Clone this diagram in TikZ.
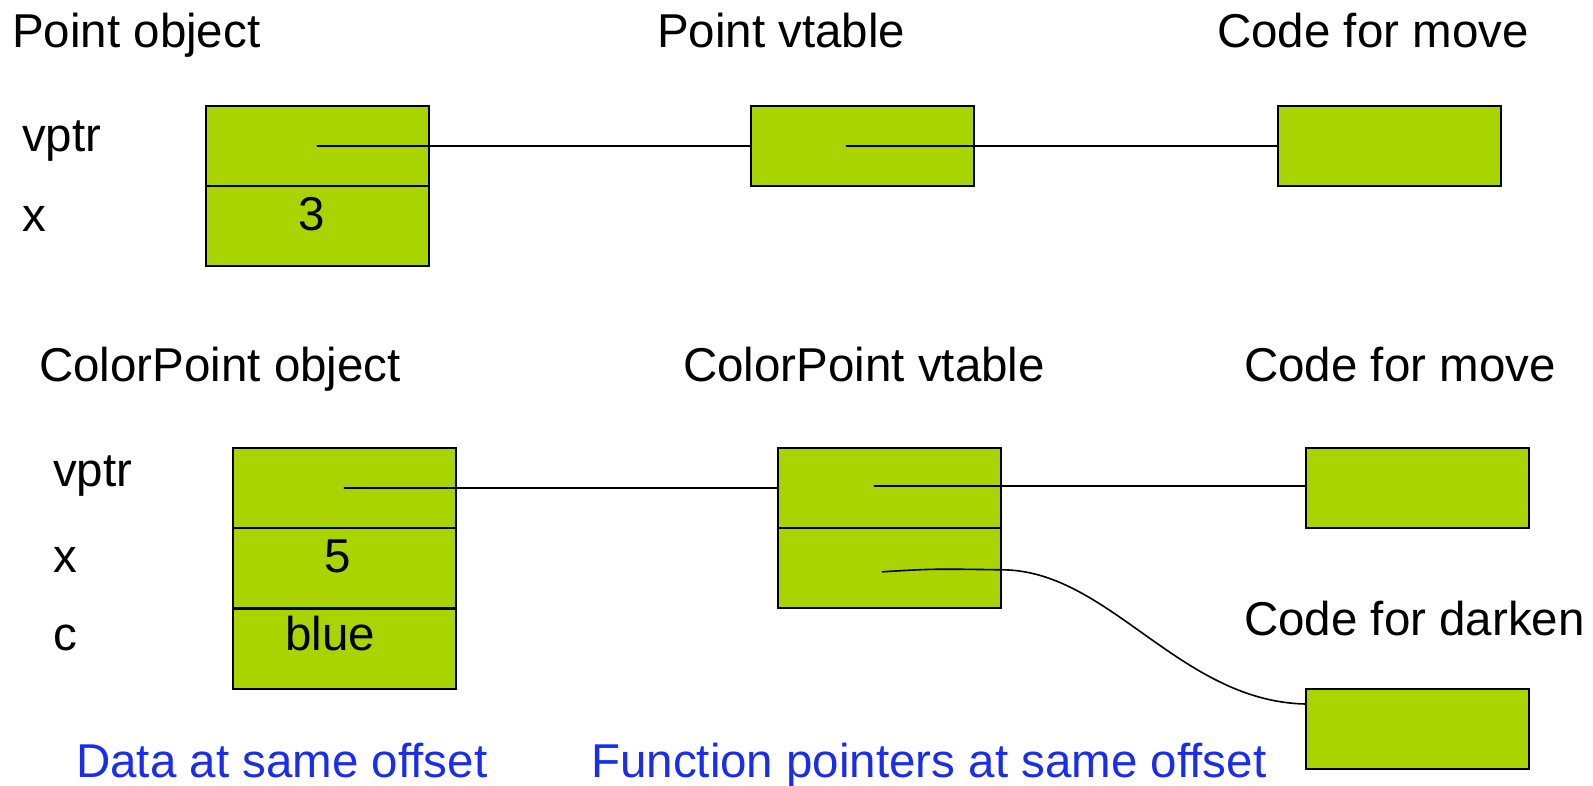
\documentclass[tikz,border=0pt]{standalone}
\usepackage{fontspec}
\setmainfont{Liberation Sans}
\usetikzlibrary{calc}
\definecolor{cellgreen}{RGB}{170,212,0}
\definecolor{notblue}{RGB}{25,45,235}
\begin{document}
\begin{tikzpicture}[x=1pt,y=-1pt,
  cell/.style={draw=black,line width=1.6pt,fill=cellgreen,rectangle,inner sep=0pt,
    minimum width=223pt,minimum height=80pt,anchor=north west},
  lbl/.style={font=\fontsize{47.5}{57}\selectfont,inner sep=0pt,anchor=base west},
  val/.style={font=\fontsize{47.5}{57}\selectfont,inner sep=0pt,anchor=base},
  note/.style={lbl,text=notblue},
  ptr/.style={line width=1.6pt,line cap=round}]
\useasboundingbox (0,0) rectangle (1593,786);
% --- Point ---
\node[lbl] (tpobj) at (12,48) {Point object};
\node[lbl] (tpvt) at (657,48) {Point vtable};
\node[lbl] (tpmove) at (1217,48) {Code for move};
\node[lbl] (tpvptr) at (22,152) {vptr};
\node[lbl] (tpx) at (22,232) {x};
\node[cell] (pobja) at (205,105) {};
\node[cell] (pobjb) at (205,185) {};
\node[val] (pthree) at (312,231) {3};
\node[cell] (pvt) at (750,105) {};
\node[cell] (pmove) at (1277,105) {};
\draw[ptr] (pobja.center) -- (pvt.west);
\draw[ptr] ($(pvt.center)+(-16,0)$) -- (pmove.west);
% --- ColorPoint ---
\node[lbl] (tcobj) at (39,381) {ColorPoint object};
\node[lbl] (tcvt) at (683,381) {ColorPoint vtable};
\node[lbl] (tcmove) at (1244,381) {Code for move};
\node[lbl] (tcvptr) at (53,486) {vptr};
\node[lbl] (tcx) at (53,572) {x};
\node[lbl] (tcc) at (53,650) {c};
\node[cell] (cobja) at (232,447) {};
\node[cell] (cobjb) at (232,527) {};
\node[cell] (cobjc) at (232,608) {};
\node[val] (cfive) at (338,572) {5};
\node[val] (cblue) at (330,650) {blue};
\node[cell] (cvta) at (777,447) {};
\node[cell] (cvtb) at (777,527) {};
\node[cell] (cmove) at (1305,447) {};
\node[lbl] (tcdark) at (1244,635) {Code for darken};
\node[cell] (cdark) at (1305,688) {};
\draw[ptr] (cobja.center) -- (cobja.center -| cvta.west);
\draw[ptr] ($(cvta.center)+(-15,-2)$) -- ($(cmove.west)+(0,-2)$);
\coordinate (cstart) at ($(cvtb.center)+(-7,4)$);
\coordinate (cend) at ($(cdark.north west)+(0,16)$);
\draw[ptr] (cstart) .. controls ($(cstart)+(50,-3)$) .. ($(cvtb.east)+(0,2)$)
  .. controls ($(cvtb.east)+(107,2)$) and ($(cend)+(-126,-3)$) .. (cend);
% --- notes ---
\node[note] (ndata) at (76,777) {Data at same offset};
\node[note] (nfunc) at (591,777) {Function pointers at same offset};
\end{tikzpicture}
\end{document}
